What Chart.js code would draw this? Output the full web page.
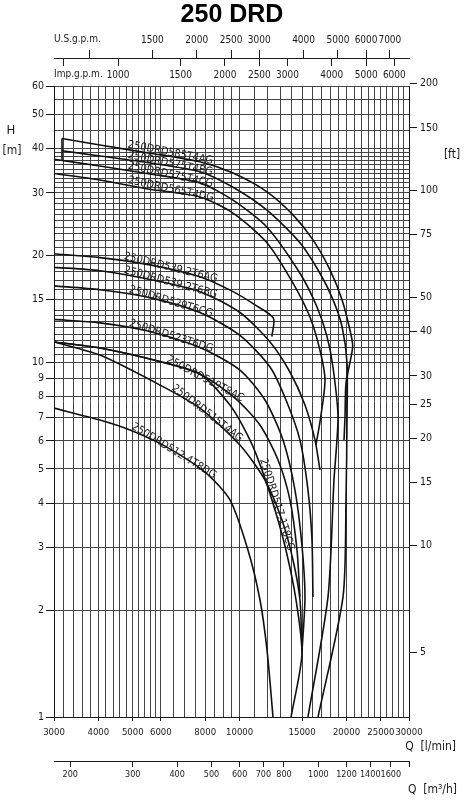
<!DOCTYPE html>
<html>
<head>
<meta charset="utf-8">
<title>250 DRD</title>
<script src="https://cdn.jsdelivr.net/npm/chart.js@4.4.1/dist/chart.umd.min.js"></script>
<style>
  html, body { margin: 0; padding: 0; background: #fff; }
  #wrap { position: relative; width: 464px; height: 800px; }
</style>
</head>
<body>
<div id="wrap"><canvas id="pump-chart"></canvas></div>
<script>
// ─── AXIS TICKS & GRID ─────────────────────────────────
const qLabels = [3000, 4000, 5000, 6000, 8000, 10000, 15000, 20000, 25000, 30000];
const qGrid = [3000, 3200, 3400, 3600, 3800, 4000, 4200, 4400, 4600, 4800, 5000, 5200, 5400, 5600, 5800, 6000,
  6500, 7000, 7500, 8000, 8500, 9000, 9500,
  10000, 11000, 12000, 13000, 14000, 15000, 16000, 17000, 18000, 19000, 20000,
  21000, 22000, 23000, 24000, 25000, 26000, 27000, 28000, 29000, 30000];
const hLabels = [1, 2, 3, 4, 5, 6, 7, 8, 9, 10, 15, 20, 30, 40, 50, 60];
const hGrid = [1, 2, 3, 4, 5, 6, 7, 8, 9, 10, 10.5, 11, 11.5, 12, 12.5, 13, 13.5, 14, 15, 16, 17, 18, 19,
  20, 21, 22, 23, 24, 25, 26, 27, 28, 29, 30, 31, 32, 33, 34, 35, 36, 37, 38, 39, 40, 45, 50, 55, 60];
const ftLabels = [5, 10, 15, 20, 25, 30, 40, 50, 75, 100, 150, 200];
const m3hTicks = [200, 300, 400, 500, 600, 700, 800, 1000, 1200, 1400, 1600, 1800];
const m3hLabels = [200, 300, 400, 500, 600, 700, 800, 1000, 1200, 1400, 1600];
const usTicks = [1000, 1500, 2000, 2500, 3000, 4000, 5000, 6000, 7000];
const usLabels = [1500, 2000, 2500, 3000, 4000, 5000, 6000, 7000];
const impTicks = [700, 1000, 1500, 2000, 2500, 3000, 4000, 5000, 6000];
const impLabels = [1000, 1500, 2000, 2500, 3000, 4000, 5000, 6000];

const Q_MIN = 3000, Q_MAX = 30000, H_MIN = 1, H_MAX = 60;
const M_TO_FT = 3.28084, LPM_TO_M3H = 0.06, US_GAL = 3.785411784, IMP_GAL = 4.54609;

// ─── CURVES (Q l/min, H m) ─────────────────────────────────
const modelNames = ['250DRD585T4AG', '250DRD575T4BG', '250DRD575T4CG', '250DRD565T4DG',
  '250DRD539.2T6AG', '250DRD539.2T6BG', '250DRD529T6CG', '250DRD523T6DG',
  '250DRD519T8AC', '250DRD515T4AG', '250DRD517.1T8CG', '250DRD512.4T8DG'];

const q585 = [3160, 4040, 5590, 7730, 9580, 11940, 14135, 16090, 17970, 19430, 20460, 20820, 19940, 19810, 19680];
const h585 = [42.7, 40.9, 38.8, 36.7, 34.1, 30.2, 26.0, 22.1, 18.2, 15.0, 12.3, 11.05, 8.73, 7.0, 6.03];
const q575b = [3160, 4040, 5590, 7730, 9580, 11940, 14790, 16840, 18320, 19430, 20070, 20070, 19940, 19555, 16630];
const h575b = [39.4, 38.1, 36.4, 34.4, 31.1, 26.8, 21.7, 17.8, 15.0, 12.6, 9.94, 7.0, 4.09, 2.18, 1.0];
const q575c = [3000, 4040, 5590, 7730, 9580, 11940, 14790, 16520, 17630, 18320, 18930, 18440, 17740, 15580];
const h575c = [37.3, 35.7, 33.9, 32.0, 28.6, 24.0, 17.8, 14.3, 11.8, 9.69, 7.0, 4.65, 2.18, 1.0];
const q565 = [3000, 4040, 5590, 7730, 9580, 11940, 14135, 15780, 16840, 17400, 16920, 16410];
const h565 = [34.0, 32.6, 30.7, 29.2, 26.3, 21.7, 16.7, 13.4, 10.8, 8.91, 7.0, 5.84];
const q539a = [3000, 4040, 5590, 7730, 9580, 11050, 12450, 12325];
const h539a = [20.2, 19.7, 18.8, 17.4, 15.8, 14.5, 13.3, 11.8];
const q539b = [3000, 4040, 5590, 7730, 10020, 12180, 13860, 15280, 16307, 16840];
const h539b = [18.5, 18.1, 17.1, 15.8, 13.8, 11.4, 9.38, 7.57, 6.03, 4.97];
const q529 = [3000, 4040, 5590, 7730, 10020, 12180, 13510, 14790, 15580, 15990, 16090];
const h529 = [16.4, 16.0, 15.2, 13.8, 11.9, 9.69, 7.82, 6.03, 4.36, 3.15, 2.18];
const q523 = [3000, 4040, 5590, 7730, 10020, 11790, 13250, 14320, 14980, 15280, 14980];
const h523 = [13.2, 12.9, 12.2, 11.0, 9.50, 7.82, 6.03, 4.36, 3.05, 2.18, 1.52];
const q519 = [3000, 4040, 5890, 7730, 9705, 11410, 12830, 13860, 14510, 14790];
const h519 = [11.4, 10.96, 10.07, 9.26, 7.92, 6.65, 5.30, 4.09, 2.95, 2.18];
const q515 = [3000, 4040, 5965, 7730, 10020, 11790, 13160, 14135, 14790, 14980];
const h515 = [11.4, 10.47, 8.62, 7.42, 5.84, 4.65, 3.59, 2.77, 2.14, 1.545];
const q517 = [3000, 4040, 5890, 7730, 9393, 10697, 11560, 12580, 13510, 14415, 14980, 13960];
const h517 = [11.4, 10.96, 10.07, 9.26, 7.57, 6.03, 4.97, 3.83, 2.95, 2.14, 1.50, 1.0];
const q512 = [3000, 4040, 4911, 6162, 7988, 9393, 10560, 11410, 11943, 12418];
const h512 = [7.42, 6.87, 6.44, 5.80, 4.90, 4.09, 2.95, 2.14, 1.545, 1.0];

// minimum flow bracket joining the top curves
const qBracket = [3160, 3160];
const hBracket = [42.7, 37.1];

const curveQ = [q585, q575b, q575c, q565, q539a, q539b, q529, q523, q519, q515, q517, q512];
const curveH = [h585, h575b, h575c, h565, h539a, h539b, h529, h523, h519, h515, h517, h512];
// flow where each curve's name starts
const labelAtQ = [4816, 4816, 4816, 4816, 4694, 4694, 4849, 4849, 6162, 6365, 11266, 4911];

// ─── STYLE ─────────────────────────────────
const FONT = "'DejaVu Sans Condensed', 'Liberation Sans Narrow', sans-serif";
const INK = '#1a1a1a';
const GRID = '#444';
const tickFont = { family: FONT, size: 9.5 };
const smallFont = { family: FONT, size: 9 };
const has = (arr, v) => arr.some(a => Math.abs(a - v) < 1e-6 * Math.max(1, v));
const setTicks = list => scale => { scale.ticks = list.map(v => ({ value: v })); };
const onlyLabels = list => v => has(list, v) ? String(v) : '';
const tickInk = list => c => (c.tick && has(list, c.tick.value)) ? INK : 'rgba(0,0,0,0)';

const toXY = (qs, hs) => qs.map((q, i) => ({ x: q, y: hs[i] }));

const datasets = curveQ.map((qs, i) => ({
  label: modelNames[i],
  data: toXY(qs, curveH[i]),
  borderColor: '#111',
  borderWidth: 1.6,
  pointRadius: 0,
  tension: 0.25,
  fill: false,
}));
datasets.push({
  label: 'min',
  data: toXY(qBracket, hBracket),
  borderColor: '#111',
  borderWidth: 1.6,
  pointRadius: 0,
  tension: 0,
  fill: false,
});

// ─── PLUGINS ─────────────────────────────────
const curveLabels = {
  id: 'curveLabels',
  afterDatasetsDraw(chart) {
    const ctx = chart.ctx;
    const xs = chart.scales.x;
    ctx.save();
    ctx.font = '11px ' + FONT;
    ctx.fillStyle = INK;
    ctx.textBaseline = 'alphabetic';
    modelNames.forEach((name, i) => {
      const pts = chart.getDatasetMeta(i).data.map(p => ({ x: p.x, y: p.y }));
      const px = xs.getPixelForValue(labelAtQ[i]);
      const k = pts.findIndex((p, j) => j < pts.length - 1 && p.x <= px && pts[j + 1].x >= px);
      if (k < 0) return;
      const t = (px - pts[k].x) / (pts[k + 1].x - pts[k].x);
      const sx = px, sy = pts[k].y + t * (pts[k + 1].y - pts[k].y);
      const w = ctx.measureText(name).width;
      let rem = w, cx = sx, cy = sy, j = k + 1, ex = sx, ey = sy;
      while (j < pts.length) {
        const dx = pts[j].x - cx, dy = pts[j].y - cy, d = Math.hypot(dx, dy);
        if (d >= rem) { ex = cx + dx * rem / d; ey = cy + dy * rem / d; rem = 0; break; }
        rem -= d; cx = pts[j].x; cy = pts[j].y; j++;
      }
      if (rem > 0) { ex = cx; ey = cy; }
      ctx.save();
      ctx.translate(sx, sy);
      ctx.rotate(Math.atan2(ey - sy, ex - sx));
      ctx.fillText(name, 0, -2);
      ctx.restore();
    });
    ctx.restore();
  }
};

const axisNames = {
  id: 'axisNames',
  afterDraw(chart) {
    const { ctx, chartArea: a } = chart;
    ctx.save();
    ctx.fillStyle = INK;
    ctx.textBaseline = 'middle';
    ctx.textAlign = 'center';
    ctx.font = '13px ' + FONT;
    ctx.fillText('H', 11, a.top + 45);
    ctx.font = '12px ' + FONT;
    ctx.fillText('[m]', 12, a.top + 65);
    ctx.fillText('[ft]', 452, a.top + 69);
    ctx.textAlign = 'right';
    ctx.fillText('Q  [l/min]', 456, a.bottom + 30);
    ctx.fillText('Q  [m³/h]', 457, a.bottom + 73);
    ctx.restore();
  }
};

// ─── CHART ─────────────────────────────────
Chart.defaults.font.family = FONT;
Chart.defaults.color = INK;

new Chart(document.getElementById('pump-chart'), {
  type: 'line',
  data: { datasets },
  options: {
    responsive: true,
    maintainAspectRatio: false,
    animation: false,
    events: [],
    layout: { padding: 0 },
    plugins: {
      legend: { display: false },
      tooltip: { enabled: false },
      title: {
        display: true,
        text: '250 DRD',
        color: '#000',
        font: { family: "'Liberation Sans', Arial, sans-serif", size: 25, weight: 'bold', lineHeight: 1.1 },
        padding: { top: 1, bottom: 0 },
      },
    },
    scales: {
      x: {
        type: 'logarithmic', position: 'bottom', weight: 0,
        min: Q_MIN, max: Q_MAX, bounds: 'data',
        afterBuildTicks: setTicks(qGrid),
        afterFit: s => { s.height = 44; },
        ticks: { autoSkip: false, maxRotation: 0, minRotation: 0, padding: 6, font: tickFont, color: INK, callback: onlyLabels(qLabels) },
        grid: { color: GRID, lineWidth: 1, tickLength: 4, tickColor: tickInk(qLabels) },
        border: { display: true, color: INK },
      },
      y: {
        type: 'logarithmic', position: 'left',
        min: H_MIN, max: H_MAX, bounds: 'data',
        afterBuildTicks: setTicks(hGrid),
        afterFit: s => { s.width = 54; },
        ticks: { autoSkip: false, padding: 2, font: { family: FONT, size: 10.5 }, color: INK, callback: onlyLabels(hLabels) },
        grid: { color: GRID, lineWidth: 1, tickLength: 8, tickColor: tickInk(hLabels) },
        border: { display: true, color: INK },
      },
      yft: {
        type: 'logarithmic', position: 'right',
        min: H_MIN * M_TO_FT, max: H_MAX * M_TO_FT, bounds: 'data',
        afterBuildTicks: setTicks(ftLabels),
        afterFit: s => { s.width = 55; },
        ticks: { autoSkip: false, padding: 3, font: { family: FONT, size: 10.5 }, color: INK, callback: v => String(v) },
        grid: { drawOnChartArea: false, tickLength: 8, tickColor: INK },
        border: { display: true, color: INK },
      },
      xm3: {
        type: 'logarithmic', axis: 'x', position: 'bottom', weight: 1,
        min: Q_MIN * LPM_TO_M3H, max: Q_MAX * LPM_TO_M3H, bounds: 'data',
        afterBuildTicks: setTicks(m3hTicks),
        afterFit: s => { s.height = 39; },
        ticks: { autoSkip: false, maxRotation: 0, minRotation: 0, padding: 2.4, font: smallFont, color: INK, callback: onlyLabels(m3hLabels) },
        grid: { drawOnChartArea: false, tickLength: 6, tickColor: INK },
        border: { display: true, color: INK },
      },
      ximp: {
        type: 'logarithmic', axis: 'x', position: 'top', weight: 1,
        min: Q_MIN / IMP_GAL, max: Q_MAX / IMP_GAL, bounds: 'data',
        afterBuildTicks: setTicks(impTicks),
        afterFit: s => { s.height = 28; },
        ticks: { autoSkip: false, maxRotation: 0, minRotation: 0, padding: -23.1, font: { family: FONT, size: 10 }, color: INK, callback: onlyLabels(impLabels) },
        grid: { drawOnChartArea: false, tickLength: 28, tickColor: INK, tickBorderDash: [8, 60] },
        border: { display: false },
        title: { display: true, text: 'Imp.g.p.m.', align: 'start', color: INK, font: { family: FONT, size: 10 }, padding: { top: 10.4, bottom: 0 } },
      },
      xus: {
        type: 'logarithmic', axis: 'x', position: 'top', weight: 2,
        min: Q_MIN / US_GAL, max: Q_MAX / US_GAL, bounds: 'data',
        afterBuildTicks: setTicks(usTicks),
        afterFit: s => { s.height = 29.5; },
        ticks: { autoSkip: false, maxRotation: 0, minRotation: 0, padding: 3.4, font: { family: FONT, size: 10 }, color: INK, callback: onlyLabels(usLabels) },
        grid: { drawOnChartArea: false, tickLength: 8, tickColor: INK },
        border: { display: true, color: INK },
        title: { display: true, text: 'U.S.g.p.m.', align: 'start', color: INK, font: { family: FONT, size: 10 }, padding: { top: 4.9, bottom: 0 } },
      },
    },
  },
  plugins: [curveLabels, axisNames],
});
</script>
</body>
</html>
